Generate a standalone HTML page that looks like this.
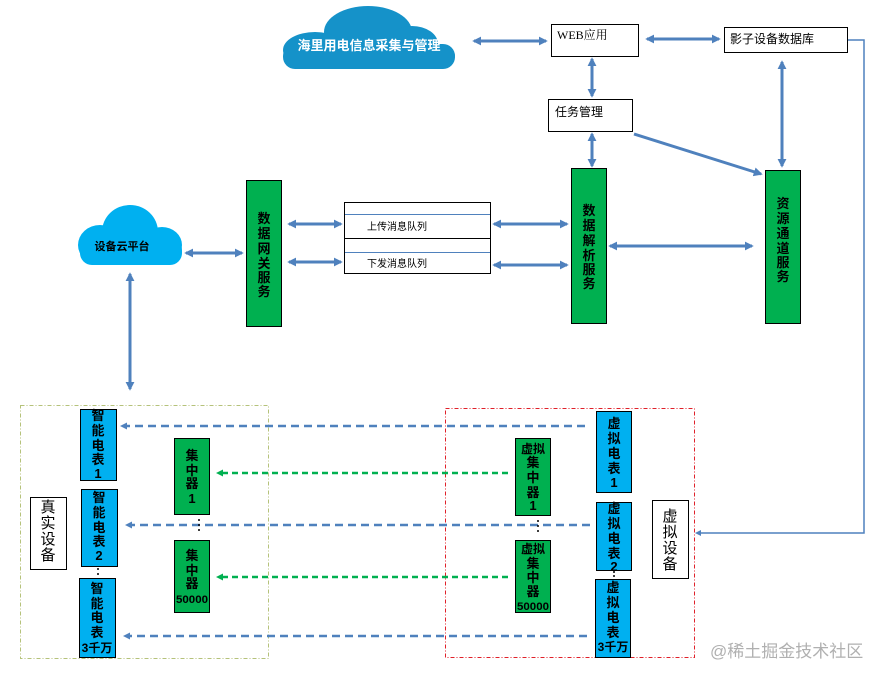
<!DOCTYPE html>
<html><head><meta charset="utf-8"><style>
html,body{margin:0;padding:0;background:#fff;}
svg{display:block;font-family:"Liberation Sans","Noto Sans CJK SC",sans-serif;}
.v{font-size:13px;font-weight:bold;text-anchor:middle;fill:#000;}
.r{font-size:12px;fill:#000;}
</style></head><body>
<svg width="889" height="680" viewBox="0 0 889 680" xmlns="http://www.w3.org/2000/svg">
<defs>
<marker id="a" viewBox="0 0 10 10" refX="8" refY="5" markerWidth="3" markerHeight="3" orient="auto-start-reverse"><path d="M0,0L10,5L0,10z" fill="#4f81bd"/></marker>
</defs>
<!-- clouds -->
<g fill="#1592c9">
<ellipse cx="368" cy="32" rx="44" ry="26"/><ellipse cx="412" cy="44" rx="26" ry="18"/><ellipse cx="315" cy="50" rx="32" ry="18"/><ellipse cx="430" cy="56" rx="25" ry="13"/><rect x="283" y="44" width="172" height="25" rx="12"/>
</g>
<text x="369" y="50" font-size="13" font-weight="bold" fill="#fff" text-anchor="middle">海里用电信息采集与管理</text>
<g fill="#00b0f0">
<ellipse cx="130" cy="232" rx="28" ry="27"/><ellipse cx="100" cy="245" rx="22" ry="20"/><ellipse cx="162" cy="245" rx="20" ry="18"/><rect x="80" y="238" width="102" height="27" rx="12"/>
</g>
<text x="122" y="250" font-size="11" font-weight="bold" fill="#000" text-anchor="middle">设备云平台</text>
<!-- top boxes -->
<g fill="#fff" stroke="#000" stroke-width="1">
<rect x="551.5" y="24.5" width="87" height="32"/>
<rect x="724.5" y="27.5" width="123" height="25"/>
<rect x="548.5" y="99.5" width="84" height="32"/>
<rect x="344.5" y="202.5" width="146" height="71"/>
</g>
<text x="557" y="39" class="r" font-family="Liberation Serif,Noto Serif CJK SC,serif">WEB应用</text>
<text x="730" y="43" class="r">影子设备数据库</text>
<text x="555" y="116" class="r">任务管理</text>
<line x1="345" y1="214.5" x2="490" y2="214.5" stroke="#4f81bd"/>
<line x1="345" y1="238.5" x2="490" y2="238.5" stroke="#000"/>
<line x1="345" y1="252.5" x2="490" y2="252.5" stroke="#4f81bd"/>
<text x="367" y="230" font-size="10" fill="#000">上传消息队列</text>
<text x="367" y="267" font-size="10" fill="#000">下发消息队列</text>
<!-- green service boxes -->
<g fill="#00b050" stroke="#000" stroke-width="1">
<rect x="246.5" y="180.5" width="35" height="146"/>
<rect x="571.5" y="168.5" width="35" height="155"/>
<rect x="765.5" y="170.5" width="35" height="153"/>
</g>
<g class="v">
<text x="264" y="223">数</text><text x="264" y="238">据</text><text x="264" y="253">网</text><text x="264" y="268">关</text><text x="264" y="282">服</text><text x="264" y="296">务</text>
<text x="589" y="215">数</text><text x="589" y="230">据</text><text x="589" y="245">解</text><text x="589" y="260">析</text><text x="589" y="274">服</text><text x="589" y="288">务</text>
<text x="783" y="208">资</text><text x="783" y="223">源</text><text x="783" y="238">通</text><text x="783" y="253">道</text><text x="783" y="267">服</text><text x="783" y="281">务</text>
</g>
<!-- solid arrows -->
<g stroke="#4f81bd" stroke-width="3" fill="none" marker-start="url(#a)" marker-end="url(#a)">
<line x1="474" y1="41" x2="546" y2="41"/>
<line x1="647" y1="39" x2="719" y2="39"/>
<line x1="592" y1="59" x2="592" y2="96"/>
<line x1="592" y1="134" x2="592" y2="166"/>
<line x1="782" y1="62" x2="782" y2="166"/>
<line x1="186" y1="253" x2="242" y2="253"/>
<line x1="289" y1="224" x2="341" y2="224"/>
<line x1="289" y1="262" x2="341" y2="262"/>
<line x1="494" y1="224" x2="567" y2="224"/>
<line x1="494" y1="265" x2="567" y2="265"/>
<line x1="610" y1="246" x2="752" y2="246"/>
<line x1="130" y1="274" x2="130" y2="389"/>
</g>
<line x1="634" y1="134" x2="761" y2="174" stroke="#4f81bd" stroke-width="3" marker-end="url(#a)"/>
<polyline points="848,40 864,40 864,533 698,533" fill="none" stroke="#4f81bd" stroke-width="1.5"/>
<path d="M695,533 l6,-3 v6z" fill="#4f81bd"/>
<!-- dashed groups -->
<rect x="20.5" y="405.5" width="248" height="253" fill="none" stroke="#b5c27a" stroke-dasharray="4,2,1,2"/>
<rect x="445.5" y="408.5" width="249" height="249" fill="none" stroke="#e0202a" stroke-dasharray="4,2,1,2"/>
<!-- dashed arrows -->
<g stroke="#4f81bd" stroke-width="2.5" stroke-dasharray="8,5" fill="none">
<line x1="585" y1="426" x2="124" y2="426"/>
<line x1="590" y1="525" x2="129" y2="525"/>
<line x1="587" y1="636" x2="127" y2="636"/>
</g>
<path d="M120,426 l7,-3.5 v7z M125,525 l7,-3.5 v7z M123,636 l7,-3.5 v7z" fill="#4f81bd"/>
<g stroke="#00b050" stroke-width="2.5" stroke-dasharray="6,4" fill="none">
<line x1="508" y1="473" x2="221" y2="473"/>
<line x1="508" y1="577" x2="221" y2="577"/>
</g>
<path d="M216,473 l7,-3.5 v7z M216,577 l7,-3.5 v7z" fill="#00b050"/>
<!-- dots -->
<g fill="#000">
<circle cx="199" cy="520" r="1"/><circle cx="199" cy="525" r="1"/><circle cx="199" cy="530" r="1"/>
<circle cx="538" cy="521" r="1"/><circle cx="538" cy="526" r="1"/><circle cx="538" cy="531" r="1"/>
<circle cx="98" cy="569" r="1"/><circle cx="98" cy="574" r="1"/>
<circle cx="614" cy="572" r="1"/><circle cx="614" cy="576" r="1"/>
</g>
<!-- blue meters -->
<g fill="#00b0f0" stroke="#000" stroke-width="1">
<rect x="80.5" y="409.5" width="36" height="71"/>
<rect x="81.5" y="489.5" width="36" height="77"/>
<rect x="79.5" y="578.5" width="36" height="79"/>
<rect x="596.5" y="411.5" width="35" height="81"/>
<rect x="596.5" y="502.5" width="35" height="68"/>
<rect x="595.5" y="579.5" width="35" height="78"/>
</g>
<g fill="#00b050" stroke="#000" stroke-width="1">
<rect x="174.5" y="438.5" width="35" height="76"/>
<rect x="174.5" y="540.5" width="35" height="72"/>
<rect x="515.5" y="438.5" width="35" height="77"/>
<rect x="515.5" y="540.5" width="35" height="72"/>
</g>
<g fill="#fff" stroke="#000" stroke-width="1">
<rect x="30.5" y="497.5" width="36" height="72"/>
<rect x="652.5" y="500.5" width="36" height="78"/>
</g>
<g class="v">
<text x="98" y="420">智</text><text x="98" y="435">能</text><text x="98" y="450">电</text><text x="98" y="464">表</text><text x="98" y="478">1</text>
<text x="99" y="502">智</text><text x="99" y="517">能</text><text x="99" y="532">电</text><text x="99" y="546">表</text><text x="99" y="560">2</text>
<text x="97" y="593">智</text><text x="97" y="608">能</text><text x="97" y="622">电</text><text x="97" y="637">表</text><text x="97" y="652" font-size="12">3千万</text>
<text x="192" y="460">集</text><text x="192" y="475">中</text><text x="192" y="488">器</text><text x="192" y="503">1</text>
<text x="192" y="560">集</text><text x="192" y="575">中</text><text x="192" y="588">器</text><text x="192" y="603" font-size="11" textLength="32" lengthAdjust="spacingAndGlyphs">50000</text>
<text x="533" y="453" font-size="12">虚拟</text><text x="533" y="467">集</text><text x="533" y="482">中</text><text x="533" y="497">器</text><text x="533" y="510">1</text>
<text x="533" y="553" font-size="12">虚拟</text><text x="533" y="568">集</text><text x="533" y="582">中</text><text x="533" y="596">器</text><text x="533" y="610" font-size="11" textLength="32" lengthAdjust="spacingAndGlyphs">50000</text>
<text x="614" y="428">虚</text><text x="614" y="443">拟</text><text x="614" y="458">电</text><text x="614" y="473">表</text><text x="614" y="487">1</text>
<text x="614" y="513">虚</text><text x="614" y="528">拟</text><text x="614" y="543">电</text><text x="614" y="558">表</text><text x="614" y="571">2</text>
<text x="613" y="592">虚</text><text x="613" y="607">拟</text><text x="613" y="622">电</text><text x="613" y="637">表</text><text x="613" y="651" font-size="12">3千万</text>
</g>
<g font-size="15" text-anchor="middle" fill="#000">
<text x="48" y="512">真</text><text x="48" y="528">实</text><text x="48" y="544">设</text><text x="48" y="560">备</text>
<text x="670" y="521">虚</text><text x="670" y="537">拟</text><text x="670" y="553">设</text><text x="670" y="569">备</text>
</g>
<text x="710" y="657" font-size="17" fill="#b0b0b0">@稀土掘金技术社区</text>
</svg>
</body></html>
